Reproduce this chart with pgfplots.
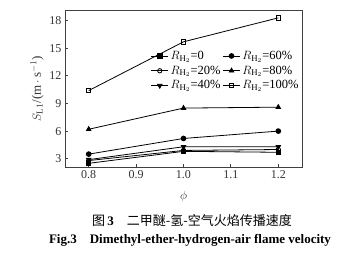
\documentclass[border=0pt]{standalone}
\usepackage{fontspec}
\setmainfont{Liberation Serif}
\newfontfamily\cjk{Noto Sans CJK SC}
\usepackage{pgfplots}
\pgfplotsset{compat=1.18}
\begin{document}
\begin{tikzpicture}[x=1pt,y=1pt]
\useasboundingbox (-65,-99) rectangle (276,167);
\begin{axis}[
  at={(0,0)}, anchor=south west,
  scale only axis, width=237pt, height=156.5pt,
  xmin=0.75, xmax=1.25, ymin=2.1, ymax=19.1,
  xtick={0.8,0.9,1.0,1.1,1.2},
  ytick={3,6,9,12,15,18},
  xticklabel style={/pgf/number format/fixed,/pgf/number format/fixed zerofill,/pgf/number format/precision=1},
  /pgf/number format/assume math mode=true,
  tick align=inside, xtick pos=left, ytick pos=left,
  tick label style={font=\fontsize{12}{14}\selectfont, color=black!80},
  axis line style={black!75, line width=0.9pt},
  major tick style={black!75, line width=0.8pt},
  major tick length=3pt,
  xlabel={$\phi$}, xlabel style={at={(0.5,0)}, anchor=center, yshift=-29pt, color=black!80, font=\fontsize{12}{14}\selectfont},
  ylabel={$S_{\mathrm{L1}}$/(m\,$\cdot$\,s$^{-1}$)}, ylabel style={font=\fontsize{13}{14}\selectfont, color=black!80, yshift=-1pt},
  legend columns=2,
  legend style={draw=none, fill=none, at={(0.995,0.755)}, anchor=north east, font=\fontsize{12.5}{13}\selectfont, row sep=1pt, column sep=0pt, inner sep=0pt},
  legend cell align=left,
]
\addplot[black, line width=0.8pt, mark size=2.2pt, mark=square*, mark options={solid, fill=black}] coordinates {(0.8,2.5) (1.0,3.8) (1.2,3.7)};
\addlegendentry{$R_{\mathrm{H}_2}$=0}
\addplot[black, line width=0.8pt, mark size=2.4pt, mark=*, mark options={solid, fill=black}] coordinates {(0.8,3.5) (1.0,5.2) (1.2,6.0)};
\addlegendentry{$R_{\mathrm{H}_2}$=60\%}
\addplot[black, line width=0.8pt, mark size=2.2pt, mark=o, mark options={solid, fill=white}] coordinates {(0.8,2.8) (1.0,3.9) (1.2,4.0)};
\addlegendentry{$R_{\mathrm{H}_2}$=20\%}
\addplot[black, line width=0.8pt, mark size=2.6pt, mark=triangle*, mark options={solid, fill=black}] coordinates {(0.8,6.2) (1.0,8.5) (1.2,8.6)};
\addlegendentry{$R_{\mathrm{H}_2}$=80\%}
\addplot[black, line width=0.8pt, mark size=2.6pt, mark=triangle*, mark options={solid, fill=black, rotate=180}] coordinates {(0.8,2.9) (1.0,4.3) (1.2,4.3)};
\addlegendentry{$R_{\mathrm{H}_2}$=40\%}
\addplot[black, line width=0.8pt, mark size=2.2pt, mark=square, mark options={solid, fill=white}] coordinates {(0.8,10.4) (1.0,15.7) (1.2,18.3)};
\addlegendentry{$R_{\mathrm{H}_2}$=100\%}
\end{axis}
\node[font=\fontsize{13}{15}\selectfont] at (127,-54) {{\cjk 图}\,\textbf{3}\quad{\cjk 二甲醚-氢-空气火焰传播速度}};
\node[font=\fontsize{13}{15}\selectfont\bfseries] at (125,-73) {Fig.3\quad Dimethyl-ether-hydrogen-air flame velocity};
\end{tikzpicture}
\end{document}
